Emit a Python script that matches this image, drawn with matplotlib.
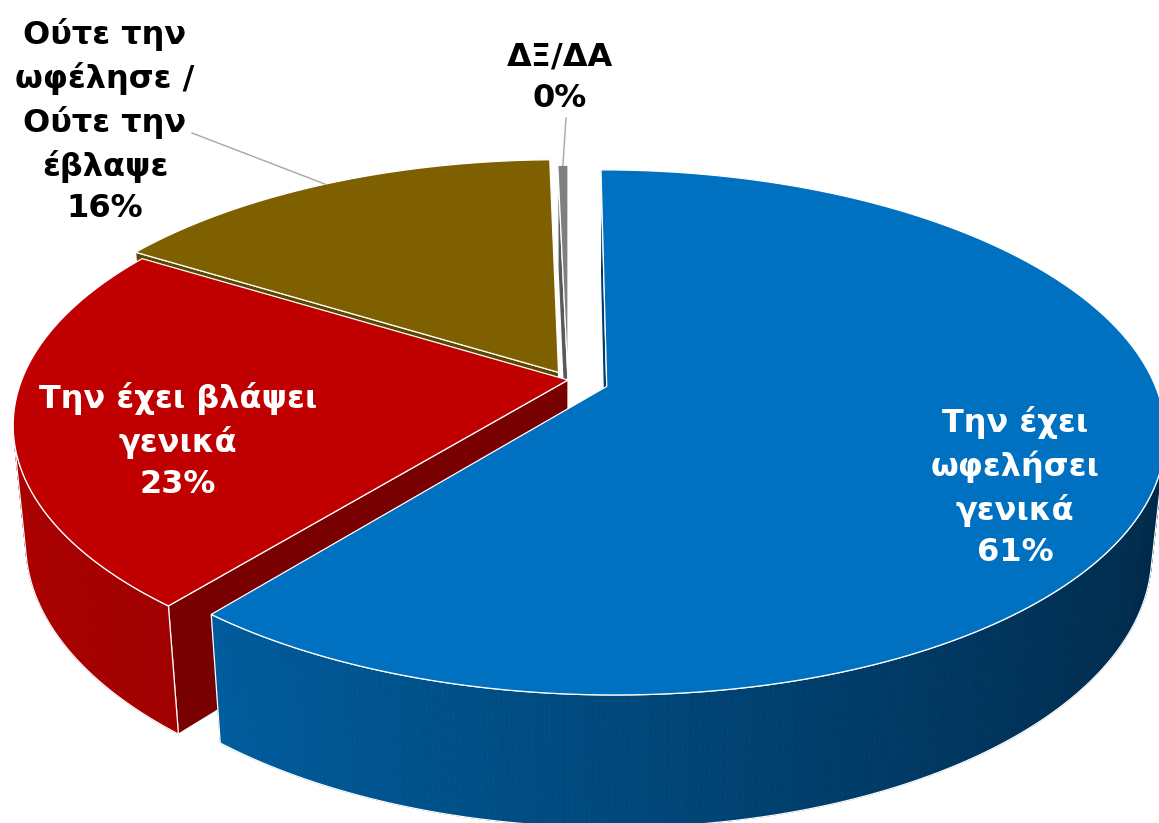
import numpy as np
import matplotlib.pyplot as plt
from matplotlib.patches import Polygon
from matplotlib.colors import to_rgb

# data
labels = ['Την έχει\nωφελήσει\nγενικά', 'Την έχει βλάψει\nγενικά',
          'Ούτε την\nωφέλησε /\nΟύτε την\nέβλαψε', 'ΔΞ/ΔΑ']
values = [60.9, 22.9, 15.85, 0.35]
explode = [0.075, 0.0, 0.035, 0.0]

top_colors = ['#0070C0', '#C00000', '#7F6000', '#7F7F7F']
side_light = ['#0068B0', '#AC0000', '#6F5400', '#6A6A6A']
side_dark = ['#002848', '#6A0000', '#4A3800', '#404040']
cut_colors = ['#003A66', '#780000', '#5C4600', '#5A5A5A']

# fake 3d camera (pixels)
CX, CY = 568, 380
ELEV = np.radians(27.5)
DIST = 5.08
FOC = 2775
THICK = 0.245
cs, sn = np.cos(ELEV), np.sin(ELEV)
CAM = np.array([0.0, -DIST * cs, DIST * sn])


def project(p):
    vx, vy, vz = p[0], p[1] + DIST * cs, p[2] - DIST * sn
    depth = vy * cs - vz * sn
    up = vy * sn + vz * cs
    return CX + FOC * vx / depth, CY - FOC * up / depth


def rim(theta, off, z, r=1.0):
    return np.array([r * np.sin(theta) + off[0], r * np.cos(theta) + off[1], z])


def mix(c1, c2, t):
    a, b = np.array(to_rgb(c1)), np.array(to_rgb(c2))
    return tuple(a + (b - a) * t)


fig = plt.figure(figsize=(11.59, 8.23), dpi=100)
ax = fig.add_axes([0, 0, 1, 1])
ax.set_xlim(0, 1159)
ax.set_ylim(823, 0)
ax.axis('off')

total = sum(values)
bounds = np.concatenate([[0], np.cumsum(values)]) / total * 2 * np.pi

pieces = []
tops = []
for i in range(len(values)):
    a1, a2 = bounds[i], bounds[i + 1]
    mid = (a1 + a2) / 2
    off = explode[i] * np.array([np.sin(mid), np.cos(mid)])
    ctop = np.array([off[0], off[1], 0.0])
    cbot = np.array([off[0], off[1], -THICK])

    # cut faces
    for ang, sign in [(a1, -1), (a2, 1)]:
        n = sign * np.array([np.cos(ang), -np.sin(ang), 0.0])
        pts = [ctop, rim(ang, off, 0), rim(ang, off, -THICK), cbot]
        cen = np.mean(pts, axis=0)
        if np.dot(CAM - cen, n) > 0:
            pieces.append((np.linalg.norm(CAM - cen), 'cut', i, pts))

    # outer side, split in strips
    angs = np.linspace(a1, a2, max(int(np.degrees(a2 - a1) * 2), 2))
    strips = []
    for t1, t2 in zip(angs[:-1], angs[1:]):
        tm = (t1 + t2) / 2
        n = np.array([np.sin(tm), np.cos(tm), 0.0])
        p = rim(tm, off, -THICK / 2)
        if np.dot(CAM - p, n) > 0:
            strips.append((t1, t2))
    if strips:
        tm = np.mean([s[0] for s in strips])
        cen = rim(tm, off, -THICK / 2)
        pieces.append((np.linalg.norm(CAM - cen), 'side', i, (strips, off)))

    tp = [ctop] + [rim(t, off, 0) for t in np.linspace(a1, a2, 200)]
    tops.append([project(p) for p in tp])

pieces.sort(key=lambda q: -q[0])
z = 1
for dist, kind, i, data in pieces:
    if kind == 'cut':
        xy = [project(p) for p in data]
        ax.add_patch(Polygon(xy, closed=True, fc=cut_colors[i], ec='white', lw=0.9, zorder=z))
    else:
        strips, off = data
        for t1, t2 in strips:
            tmid = (t1 + t2) / 2
            col = mix(side_light[i], side_dark[i], (np.sin(tmid) + 1) / 2)
            quad = [rim(t1, off, 0), rim(t2, off, 0), rim(t2, off, -THICK), rim(t1, off, -THICK)]
            ax.add_patch(Polygon([project(p) for p in quad], closed=True,
                                 fc=col, ec=col, lw=0.6, zorder=z))
        ts = np.linspace(strips[0][0], strips[-1][1], 200)
        outline = [project(rim(t, off, 0)) for t in ts] + \
                  [project(rim(t, off, -THICK)) for t in ts[::-1]]
        ax.add_patch(Polygon(outline, closed=True, fc='none', ec='white', lw=0.9, zorder=z + 0.5))
    z += 1

for i, xy in enumerate(tops):
    ax.add_patch(Polygon(xy, closed=True, fc=top_colors[i], ec='white', lw=0.9, zorder=z))
    z += 1

# labels
pct = [f'{round(v)}%' for v in values]
font = dict(family='DejaVu Sans', fontweight='bold', fontsize=23,
            ha='center', va='center', linespacing=1.42, zorder=z + 5)
ax.text(1015, 487, labels[0] + '\n' + pct[0], color='white', **font)
ax.text(178, 441, labels[1] + '\n' + pct[1], color='white', **font)
ax.text(105, 121, labels[2] + '\n' + pct[2], color='black', **font)
ax.text(560, 78, labels[3] + '\n' + pct[3], color='black', **font)

# leader lines to the slice rims
for i, start in [(2, (192, 133)), (3, (566, 118))]:
    mid = (bounds[i] + bounds[i + 1]) / 2
    off = explode[i] * np.array([np.sin(mid), np.cos(mid)])
    ex, ey = project(rim(mid, off, 0))
    ax.plot([start[0], ex], [start[1], ey], color='#A6A6A6', lw=1.0, zorder=z + 4)

fig.savefig('out.png', dpi=100)
